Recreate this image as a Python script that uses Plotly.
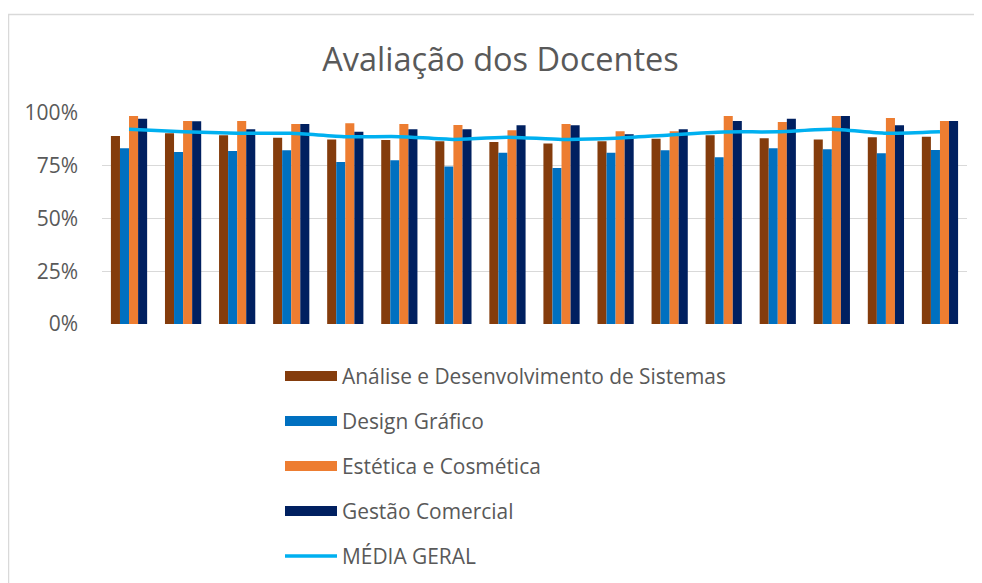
import plotly.graph_objects as go

categories = [str(i) for i in range(1, 17)]

ads = [0.891, 0.904, 0.894, 0.883, 0.875, 0.872, 0.866, 0.863, 0.856, 0.866, 0.878, 0.894, 0.880, 0.875, 0.885, 0.888]
design = [0.833, 0.815, 0.820, 0.823, 0.768, 0.776, 0.746, 0.812, 0.739, 0.812, 0.823, 0.790, 0.833, 0.828, 0.809, 0.825]
estetica = [0.986, 0.962, 0.962, 0.948, 0.951, 0.948, 0.943, 0.918, 0.948, 0.913, 0.913, 0.986, 0.957, 0.986, 0.976, 0.962]
gestao = [0.973, 0.961, 0.923, 0.948, 0.911, 0.923, 0.923, 0.942, 0.942, 0.899, 0.923, 0.962, 0.973, 0.986, 0.942, 0.962]
media = [0.923, 0.911, 0.904, 0.904, 0.888, 0.888, 0.875, 0.885, 0.875, 0.880, 0.896, 0.910, 0.911, 0.923, 0.904, 0.911]

series_names = ["Análise e Desenvolvimento de Sistemas", "Design Gráfico", "Estética e Cosmética", "Gestão Comercial"]
series_values = [ads, design, estetica, gestao]
series_colors = ["#843C0C", "#0070C0", "#ED7D31", "#002060"]
line_name = "MÉDIA GERAL"
line_color = "#00B0F0"

FONT = "Open Sans"
TXT = "#595959"

fig = go.Figure()
for i, (name, vals, col) in enumerate(zip(series_names, series_values, series_colors)):
    fig.add_trace(go.Bar(x=categories, y=vals, name=name, marker_color=col,
                         marker_line_width=0, showlegend=False, legendgroup=f"g{i}"))
fig.add_trace(go.Scatter(x=categories, y=media, name=line_name, mode="lines",
                         line=dict(color=line_color, width=3.5, shape="spline", smoothing=0.6),
                         showlegend=False, legendgroup="g4"))

# legend proxies
for i, (name, col) in enumerate(zip(series_names, series_colors)):
    fig.add_trace(go.Scatter(x=[None], y=[None], name=name, mode="lines",
                             line=dict(color=col, width=13), legendgroup=f"g{i}"))
fig.add_trace(go.Scatter(x=[None], y=[None], name=line_name, mode="lines",
                         line=dict(color=line_color, width=3.5), legendgroup="g4"))

OFF = 8  # page body margin
# plot area in page coordinates
P_LEFT, P_RIGHT, P_TOP, P_BOTTOM = 102, 967, 113, 324
W, H = 982 - OFF, 583 - OFF
L = P_LEFT - OFF
T = P_TOP - OFF
R = W + OFF - P_RIGHT
B = H + OFF - P_BOTTOM
pw = P_RIGHT - P_LEFT
ph = P_BOTTOM - P_TOP

def px(x):
    return (x - P_LEFT) / pw

def py(y):
    return (P_BOTTOM - y) / ph

fig.add_shape(type="rect", xref="paper", yref="paper",
              x0=px(8.5), x1=px(1000), y0=py(14.5), y1=py(620),
              line=dict(color="#D9D9D9", width=1.5), fillcolor="rgba(0,0,0,0)", layer="below")

fig.update_layout(
    width=W, height=H,
    margin=dict(l=L, r=R, t=T, b=B, autoexpand=False),
    paper_bgcolor="white", plot_bgcolor="white",
    barmode="group", bargap=0.33, bargroupgap=0,
    title=dict(text="Avaliação dos Docentes", x=px(500.5), xref="paper", xanchor="center",
               y=1 - (60 - OFF) / H, yanchor="middle",
               font=dict(family=FONT, size=32.5, color=TXT)),
    font=dict(family=FONT, color=TXT),
    xaxis=dict(showticklabels=False, showgrid=False, zeroline=False, showline=False, ticks=""),
    yaxis=dict(range=[0, 1.0], tickvals=[0, 0.25, 0.5, 0.75, 1.0], tickformat=".0%",
               showgrid=True, gridcolor="#D9D9D9", gridwidth=1, zeroline=False, showline=False,
               ticks="", tickfont=dict(family=FONT, size=21, color=TXT), ticklabelstandoff=23),
    legend=dict(orientation="v", x=px(280), xanchor="left", y=py(356), yanchor="top",
                font=dict(family=FONT, size=20.9, color=TXT), itemwidth=52,
                tracegroupgap=14.8, bgcolor="rgba(0,0,0,0)"),
)

fig.write_html("out.html")
